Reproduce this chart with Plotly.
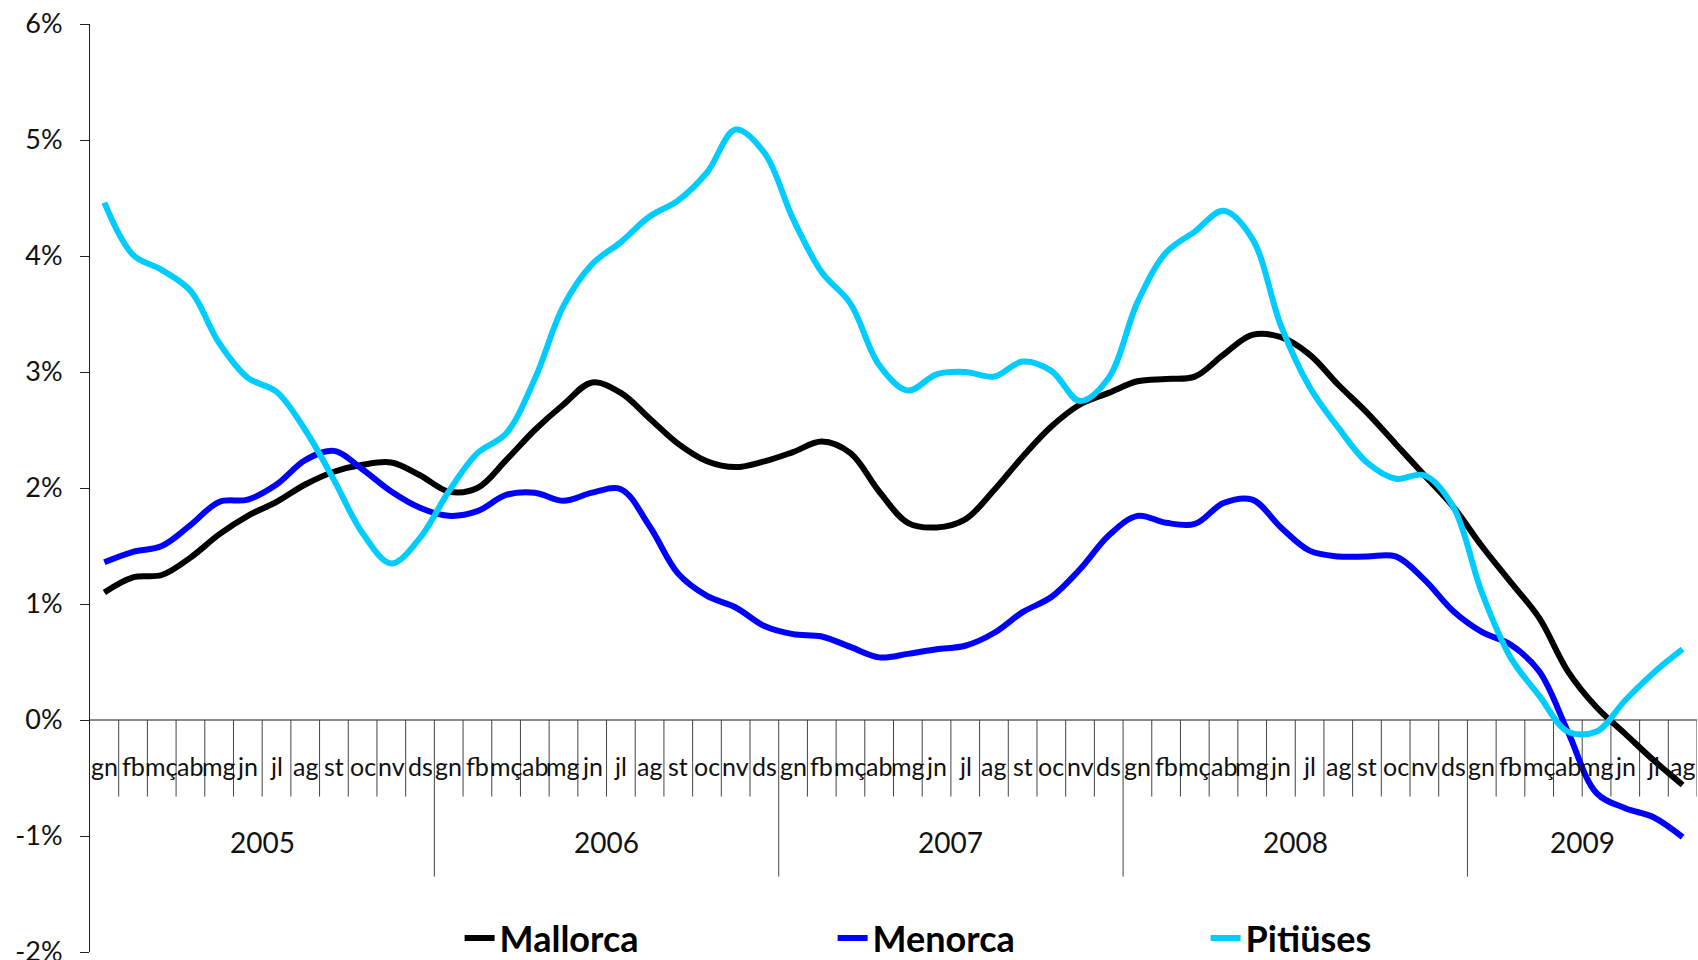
import plotly.graph_objects as go

# ── data ────────────────────────────────────────────────
months = ["gn", "fb", "mç", "ab", "mg", "jn", "jl", "ag", "st", "oc", "nv", "ds"]
years = ["2005", "2006", "2007", "2008", "2009"]
n_months = 56  # gn 2005 .. ag 2009

mallorca = [
    1.10, 1.23, 1.25, 1.40, 1.60, 1.76, 1.88, 2.03, 2.14, 2.20, 2.22, 2.11,
    1.97, 2.00, 2.24, 2.50, 2.72, 2.91, 2.82, 2.60, 2.38, 2.23, 2.18, 2.23,
    2.31, 2.40, 2.30, 1.97, 1.70, 1.66, 1.73, 1.98, 2.27, 2.53, 2.72, 2.82,
    2.92, 2.94, 2.96, 3.15, 3.32, 3.30, 3.15, 2.89, 2.65, 2.38, 2.11, 1.84,
    1.50, 1.19, 0.88, 0.42, 0.11, -0.12, -0.35, -0.56,
]
menorca = [
    1.36, 1.45, 1.50, 1.68, 1.88, 1.90, 2.03, 2.24, 2.32, 2.16, 1.97, 1.83,
    1.76, 1.80, 1.94, 1.96, 1.89, 1.96, 1.99, 1.67, 1.26, 1.07, 0.97, 0.81,
    0.74, 0.72, 0.63, 0.54, 0.57, 0.61, 0.64, 0.75, 0.93, 1.06, 1.30, 1.59,
    1.76, 1.70, 1.69, 1.87, 1.90, 1.66, 1.46, 1.41, 1.41, 1.41, 1.21, 0.94,
    0.76, 0.65, 0.42, -0.10, -0.63, -0.76, -0.84, -1.01,
]
pitiuses = [
    4.46, 4.01, 3.88, 3.70, 3.25, 2.95, 2.83, 2.50, 2.07, 1.61, 1.35, 1.57,
    1.97, 2.30, 2.47, 2.94, 3.57, 3.93, 4.12, 4.34, 4.48, 4.72, 5.09, 4.89,
    4.32, 3.86, 3.59, 3.06, 2.84, 2.98, 3.00, 2.96, 3.09, 3.01, 2.75, 2.95,
    3.60, 4.03, 4.21, 4.39, 4.15, 3.40, 2.87, 2.52, 2.22, 2.08, 2.11, 1.84,
    1.10, 0.54, 0.21, -0.10, -0.10, 0.17, 0.41, 0.61,
]

ytick_vals = [-2, -1, 0, 1, 2, 3, 4, 5, 6]

SERIES = [
    ("Mallorca", mallorca, "#000000"),
    ("Menorca", menorca, "#0000ff"),
    ("Pitiüses", pitiuses, "#00ccff"),
]

FONT = "Lato, 'Open Sans', sans-serif"
x = list(range(n_months))

fig = go.Figure()
for name, vals, color in SERIES:
    fig.add_trace(go.Scatter(
        x=x, y=vals, mode="lines", name=name,
        line=dict(color=color, width=6, shape="spline", smoothing=1),
    ))

# category axis drawn by hand at y = 0: axis line, month ticks, year dividers
fig.add_shape(type="line", xref="x", yref="y", x0=-0.5, x1=n_months - 0.5,
              y0=0, y1=0, line=dict(color="#8a8a8a", width=2), layer="below")
for k in range(1, n_months + 1):
    b = k - 0.5
    is_year = k % 12 == 0
    fig.add_shape(type="line", xref="x", yref="y", x0=b, x1=b,
                  y0=0, y1=-1.35 if is_year else -0.66,
                  line=dict(color="#444444", width=1), layer="below")

annotations = []
for i in x:
    annotations.append(dict(
        x=i, y=-0.40, xref="x", yref="y", text=months[i % 12],
        showarrow=False, font=dict(family=FONT, size=25, color="#111111"),
    ))
for j, yr in enumerate(years):
    first = j * 12
    last = min(first + 11, n_months - 1)
    annotations.append(dict(
        x=(first + last) / 2, y=-1.05, xref="x", yref="y", text=yr,
        showarrow=False, font=dict(family=FONT, size=28, color="#111111"),
    ))

fig.update_layout(
    width=1698, height=960,
    paper_bgcolor="#ffffff", plot_bgcolor="#ffffff",
    # the legend and the -2% label hang over the bottom edge: keep margins fixed
    margin=dict(l=90, r=1, t=24, b=8, autoexpand=False),
    font=dict(family=FONT, color="#111111"),
    showlegend=True,
    legend=dict(
        orientation="h", x=0.230, xanchor="left", y=0.015, yanchor="middle",
        entrywidth=328, entrywidthmode="pixels",
        bgcolor="rgba(0,0,0,0)",
        font=dict(family=FONT, size=36, color="#000000", weight="bold"),
    ),
    annotations=annotations,
)
fig.update_xaxes(range=[-0.5, n_months - 0.5], visible=False)
fig.update_yaxes(
    range=[-2, 6], tickvals=ytick_vals,
    ticktext=[f"{v}%" for v in ytick_vals],
    showgrid=False, zeroline=False, automargin=False,
    ticklabeloverflow="allow",
    showline=True, linecolor="#222222", linewidth=1,
    ticks="outside", ticklen=9, tickcolor="#222222",
    ticklabelstandoff=12,
    tickfont=dict(family=FONT, size=27, color="#111111"),
)

# page default margin would push the 1698x960 figure off the window
fig.write_html("out.html", config={"displayModeBar": False},
               post_script="document.body.style.margin = '0';")
